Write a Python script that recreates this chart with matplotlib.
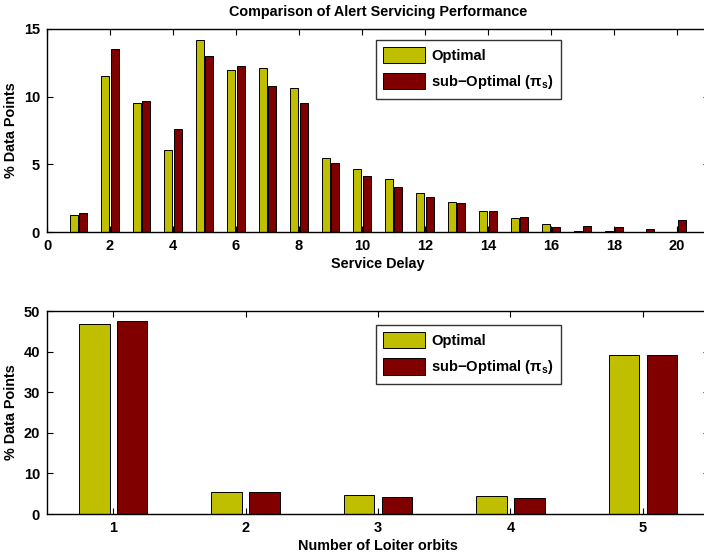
import matplotlib
matplotlib.use("Agg")
import matplotlib.pyplot as plt
import numpy as np

plt.rcParams['font.family'] = ['Liberation Sans', 'DejaVu Sans']
plt.rcParams['font.weight'] = 'bold'
plt.rcParams['mathtext.fontset'] = 'custom'
plt.rcParams['mathtext.rm'] = 'Liberation Sans:bold'
plt.rcParams['mathtext.it'] = 'Liberation Sans:italic'

# Service delay histogram
delay = np.arange(1, 21)
delay_opt = [1.28, 11.5, 9.55, 6.07, 14.17, 11.99, 12.12, 10.66, 5.5, 4.65,
             3.94, 2.86, 2.22, 1.55, 1.01, 0.57, 0.05, 0.05, 0.02, 0.02]
delay_sub = [1.38, 13.5, 9.65, 7.58, 12.98, 12.24, 10.76, 9.5, 5.08, 4.14,
             3.3, 2.56, 2.12, 1.55, 1.11, 0.37, 0.42, 0.35, 0.2, 0.89]

# Loiter orbits
orbits = np.arange(1, 6)
orbit_opt = [46.7, 5.4, 4.6, 4.35, 39.1]
orbit_sub = [47.6, 5.35, 4.26, 3.86, 39.1]

yellow = (0.75, 0.75, 0.0)
darkred = (0.5, 0.0, 0.0)
sub_label = 'sub\u2212Optimal (\u03c0$_{\\mathrm{s}}$)'

fig = plt.figure(figsize=(7.04, 5.54), dpi=100)
ax1 = fig.add_axes([0.0668, 0.581, 0.9397, 0.367])
ax2 = fig.add_axes([0.0668, 0.0722, 0.9403, 0.3664])

leg_kw = dict(loc='upper left', borderaxespad=0, fancybox=False, edgecolor='black',
              fontsize=10.6, handlelength=2.85, handleheight=1.3, borderpad=0.5,
              labelspacing=0.68, handletextpad=0.4)

ax1.bar(delay - 0.15, delay_opt, width=0.25, color=yellow, edgecolor='black', linewidth=0.7, label='Optimal')
ax1.bar(delay + 0.15, delay_sub, width=0.25, color=darkred, edgecolor='black', linewidth=0.7, label=sub_label)
ax1.set_xlim(0, 21)
ax1.set_ylim(0, 15)
ax1.set_xticks(np.arange(0, 21, 2))
ax1.set_yticks([0, 5, 10, 15])
ax1.set_xlabel('Service Delay', fontsize=10.4, fontweight='bold', labelpad=3)
ax1.set_ylabel('% Data Points', fontsize=10.4, fontweight='bold')
ax1.set_title('Comparison of Alert Servicing Performance', fontsize=10.4, fontweight='bold', pad=9)
ax1.legend(bbox_to_anchor=(0.497, 0.946), **leg_kw)

ax2.bar(orbits - 0.143, orbit_opt, width=0.23, color=yellow, edgecolor='black', linewidth=0.7, label='Optimal')
ax2.bar(orbits + 0.143, orbit_sub, width=0.23, color=darkred, edgecolor='black', linewidth=0.7, label=sub_label)
ax2.set_xlim(0.5, 5.5)
ax2.set_ylim(0, 50)
ax2.set_xticks(orbits)
ax2.set_yticks(np.arange(0, 51, 10))
ax2.set_xlabel('Number of Loiter orbits', fontsize=10.4, fontweight='bold', labelpad=3)
ax2.set_ylabel('% Data Points', fontsize=10.4, fontweight='bold')
ax2.legend(bbox_to_anchor=(0.497, 0.931), **leg_kw)

for ax in (ax1, ax2):
    ax.tick_params(direction='in', top=True, right=True, labelsize=10.5, length=4, width=0.8, pad=5)
    for lbl in ax.get_xticklabels() + ax.get_yticklabels():
        lbl.set_fontweight('bold')
    for s in ax.spines.values():
        s.set_linewidth(1.0)

fig.savefig('out.png', dpi=100)
